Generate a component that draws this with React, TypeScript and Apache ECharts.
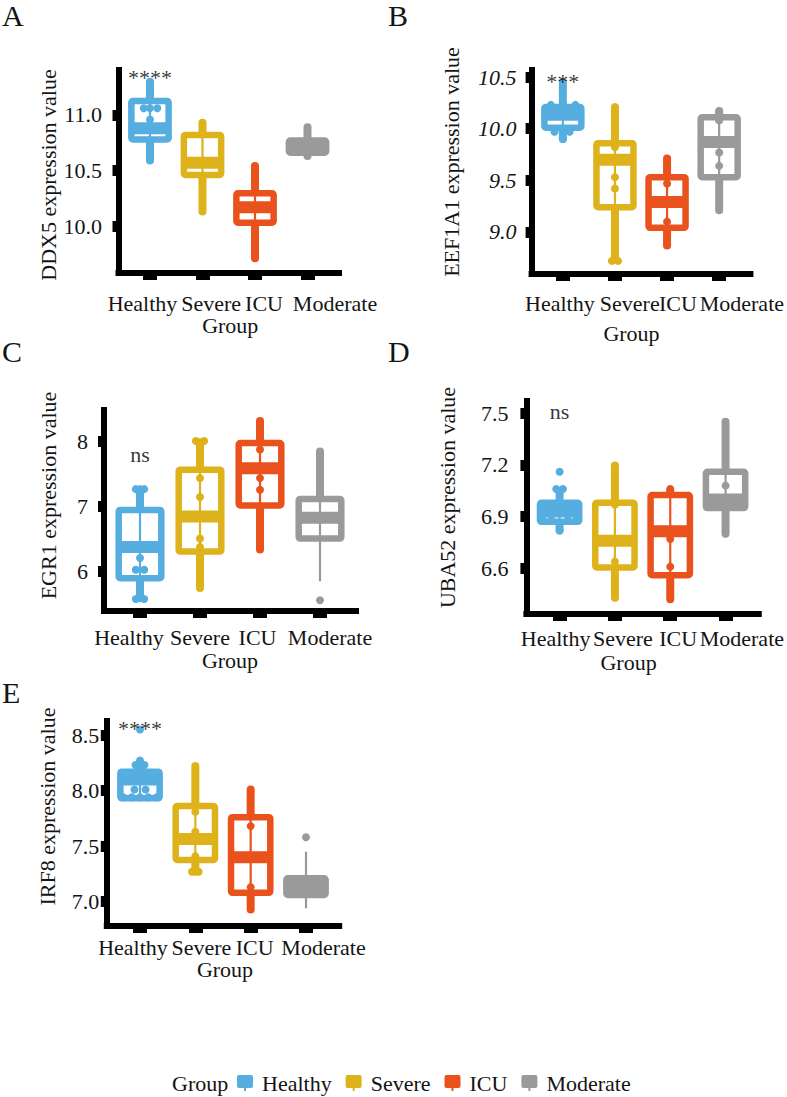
import React, { useEffect, useRef } from 'react';
import * as echarts from 'echarts';

// ---------- data ----------
const categories = ['Healthy', 'Severe', 'ICU', 'Moderate'];
const panelLetters = ['A', 'B', 'C', 'D', 'E'];
const yAxisNames = [
  'DDX5 expression value',
  'EEF1A1 expression value',
  'EGR1 expression value',
  'UBA52 expression value',
  'IRF8 expression value',
];
const sigLabels = ['****', '***', 'ns', 'ns', '****'];
const sigValues = [11.34, 10.46, 7.8, 7.51, 8.56];

// y tick labels per panel
const ddx5Ticks = [10.0, 10.5, 11.0];
const eef1a1Ticks = [9.0, 9.5, 10.0, 10.5];
const egr1Ticks = [6, 7, 8];
const uba52Ticks = [6.6, 6.9, 7.2, 7.5];
const irf8Ticks = [7.0, 7.5, 8.0, 8.5];

// box stats per group: [min, q1, median, q3, max]
const ddx5Box = [
  [10.59, 10.78, 10.88, 11.125, 11.3],
  [10.13, 10.46, 10.57, 10.82, 10.93],
  [9.71, 10.03, 10.17, 10.295, 10.54],
  [10.63, 10.66, 10.71, 10.77, 10.89],
];
const eef1a1Box = [
  [9.9, 10.01, 10.135, 10.21, 10.43],
  [8.73, 9.24, 9.7, 9.86, 10.2],
  [8.87, 9.04, 9.29, 9.53, 9.71],
  [9.21, 9.53, 9.87, 10.11, 10.17],
];
const egr1Box = [
  [5.59, 5.9, 6.38, 6.95, 7.27],
  [5.75, 6.31, 6.85, 7.57, 7.99],
  [6.34, 7.02, 7.59, 7.98, 8.32],
  [5.85, 6.51, 6.83, 7.12, 7.85],
];
const uba52Box = [
  [6.82, 6.87, 6.93, 6.98, 7.04],
  [6.43, 6.605, 6.76, 6.98, 7.196],
  [6.42, 6.56, 6.815, 7.025, 7.05],
  [6.8, 6.95, 7.0, 7.16, 7.45],
];
const irf8Box = [
  [7.93, 7.93, 8.1, 8.17, 8.25],
  [7.27, 7.375, 7.565, 7.86, 8.22],
  [6.93, 7.08, 7.4, 7.76, 8.01],
  [6.94, 7.06, 7.14, 7.21, 7.45],
];

// sample points per group: [jitter, value]
const ddx5Points = [
  [[-0.12, 11.06], [0, 11.06], [0.14, 11.06], [0, 10.96], [0, 10.64], [0, 10.6]],
  [],
  [],
  [],
];
const eef1a1Points = [
  [[0, 10.45], [-0.23, 10.23], [0.24, 10.23], [0, 10.23], [-0.16, 9.97], [0.13, 9.97], [0, 9.9]],
  [[0, 10.21], [0, 9.82], [0, 9.53], [0, 9.42], [-0.06, 8.72], [0.06, 8.72]],
  [[0, 9.47], [0, 9.1]],
  [[0, 10.16], [0, 10.08], [0, 9.77], [0, 9.64]],
];
const egr1Points = [
  [[-0.07, 7.27], [0.07, 7.27], [0, 6.21], [-0.07, 6.03], [0.07, 6.03], [0, 5.75], [-0.07, 5.58], [0.07, 5.58]],
  [[-0.07, 8.01], [0.07, 8.01], [0, 7.44], [0, 7.15], [0, 6.51], [0, 6.38], [0, 6.31]],
  [[0, 7.88], [0, 7.44], [0, 7.26]],
  [[0, 5.56]],
];
const uba52Points = [
  [[0, 7.16], [-0.06, 7.06], [0.06, 7.06], [-0.3, 6.88], [-0.15, 6.88], [0.15, 6.88], [0.3, 6.88], [0, 6.82]],
  [[0, 6.97], [0, 6.64]],
  [[0, 7.06], [0, 7.04], [0, 6.77], [0, 6.61]],
  [[0, 7.08], [0, 7.0]],
];
const irf8Points = [
  [[0, 8.55], [0, 8.27], [-0.08, 8.23], [0.08, 8.23], [-0.1, 8.01], [0.1, 8.01], [-0.3, 7.94], [-0.15, 7.94], [0, 7.94], [0.15, 7.94], [0.3, 7.94]],
  [[0, 7.81], [0, 7.63], [0, 7.41], [-0.06, 7.27], [0.06, 7.27]],
  [[0, 7.68], [0, 7.13]],
  [[0, 7.58]],
];

const panelBoxes = [ddx5Box, eef1a1Box, egr1Box, uba52Box, irf8Box];
const panelPoints = [ddx5Points, eef1a1Points, egr1Points, uba52Points, irf8Points];
const panelTicks = [ddx5Ticks, eef1a1Ticks, egr1Ticks, uba52Ticks, irf8Ticks];
const panelRanges = [
  [9.577, 11.405],
  [8.593, 10.568],
  [5.395, 8.488],
  [6.335, 7.571],
  [6.781, 8.626],
];

// ---------- style / layout ----------
const FONT = "'Liberation Serif', 'DejaVu Serif', serif";
const TEXT = '#141414';
const colors = ['#56ADE0', '#DEB21B', '#E9521C', '#9A9A9A'];
const grids = [
  { left: 118.5, top: 70, width: 220.5, height: 203 },
  { left: 531.6, top: 70, width: 221.8, height: 204 },
  { left: 104, top: 410, width: 252, height: 201 },
  { left: 526.4, top: 401, width: 235.2, height: 213 },
  { left: 106.8, top: 721, width: 232.4, height: 205 },
];
const X_MIN = -0.6;
const X_MAX = 3.6;
const yLabelMargin = [16.5, 15, 16, 18, 7.5];
const yLabelDecimals = [1, 1, 0, 1, 1];
const yLabelItalic = [false, true, false, false, false];
const yNameGap = [54, 69, 45, 68, 48];
const yNameShift = [-3.5, 10, 15, 10, 17];
const xLabelMargin = [19, 18, 15, 13, 10];
const xNameGap = [41, 48, 38, 37, 30];
const xNameShift = [1.5, -9.5, 0, -14, 2];
// horizontal shift (px) of each category label from its tick
const xLabelShift = [
  [-7.5, 8.7, 9, 27.5],
  [-3, 15, 11, 23],
  [-11, 0, -2.5, 10],
  [-4, 8, 8, 16.5],
  [-7, 6, 4, 17.5],
];
// whiskers drawn thin: 'none' | 'lower' | 'both'
const thinWhiskers = [
  ['none', 'none', 'none', 'none'],
  ['none', 'none', 'none', 'none'],
  ['none', 'none', 'none', 'lower'],
  ['none', 'none', 'none', 'none'],
  ['none', 'none', 'none', 'both'],
];
const letterPos = [
  [2, 0],
  [388, 0],
  [2, 336],
  [388, 336],
  [2, 677],
];
const BOX_W = 0.71;

function shiftPad(d: number) {
  return d >= 0 ? [0, 0, 0, 2 * d] : [0, -2 * d, 0, 0];
}

function makeRenderItem(color: string, thin: string) {
  return (params: any, api: any) => {
    const x = api.value(0);
    const pMin = api.coord([x, api.value(1)]);
    const pQ1 = api.coord([x, api.value(2)]);
    const pMed = api.coord([x, api.value(3)]);
    const pQ3 = api.coord([x, api.value(4)]);
    const pMax = api.coord([x, api.value(5)]);
    const w = api.size([BOX_W, 0])[0];
    const cx = pQ1[0];
    const thickW = 8;
    const thinW = 2.2;
    const upperW = thin === 'both' ? thinW : thickW;
    const lowerW = thin === 'both' || thin === 'lower' ? thinW : thickW;
    return {
      type: 'group',
      children: [
        {
          type: 'line',
          shape: { x1: cx, y1: pQ3[1], x2: cx, y2: pMax[1] },
          style: { stroke: color, lineWidth: upperW, lineCap: upperW > 3 ? 'round' : 'butt' },
        },
        {
          type: 'line',
          shape: { x1: cx, y1: pQ1[1], x2: cx, y2: pMin[1] },
          style: { stroke: color, lineWidth: lowerW, lineCap: lowerW > 3 ? 'round' : 'butt' },
        },
        {
          type: 'rect',
          shape: { x: cx - w / 2, y: pQ3[1], width: w, height: pQ1[1] - pQ3[1], r: 1.5 },
          style: { fill: '#ffffff', stroke: color, lineWidth: 6.5, lineJoin: 'round' },
        },
        {
          type: 'line',
          shape: { x1: cx, y1: pQ3[1], x2: cx, y2: pQ1[1] },
          style: { stroke: color, lineWidth: 2.2 },
        },
        {
          type: 'line',
          shape: { x1: cx - w / 2, y1: pMed[1], x2: cx + w / 2, y2: pMed[1] },
          style: { stroke: color, lineWidth: 12 },
        },
      ],
    };
  };
}

function buildOption() {
  const xAxis: any[] = [];
  const yAxis: any[] = [];
  const series: any[] = [];
  const graphic: any[] = [];

  for (let p = 0; p < 5; p++) {
    const unitPx = grids[p].width / (X_MAX - X_MIN);
    const labelPos = categories.map((c, i) => i + xLabelShift[p][i] / unitPx);
    const nearestIdx = (v: number) => {
      let best = 0;
      for (let j = 1; j < labelPos.length; j++) {
        if (Math.abs(labelPos[j] - v) < Math.abs(labelPos[best] - v)) best = j;
      }
      return best;
    };
    xAxis.push({
      type: 'value',
      gridIndex: p,
      min: X_MIN,
      max: X_MAX,
      axisLine: { show: true, onZero: false, lineStyle: { color: '#000', width: 6, cap: 'square' } },
      axisTick: { show: true, length: 7, customValues: [0, 1, 2, 3], lineStyle: { color: '#000', width: 14 } },
      axisLabel: {
        customValues: labelPos,
        margin: xLabelMargin[p],
        showMinLabel: true,
        showMaxLabel: true,
        hideOverlap: false,
        formatter: (v: number) => categories[nearestIdx(v)],
        fontFamily: FONT,
        fontSize: 22,
        color: TEXT,
      },
      splitLine: { show: false },
      name: 'Group',
      nameLocation: 'middle',
      nameGap: xNameGap[p],
      nameTextStyle: {
        fontFamily: FONT,
        fontSize: 22,
        color: TEXT,
        padding: shiftPad(xNameShift[p]),
      },
    });
    yAxis.push({
      type: 'value',
      gridIndex: p,
      min: panelRanges[p][0],
      max: panelRanges[p][1],
      axisLine: { show: true, onZero: false, lineStyle: { color: '#000', width: 6, cap: 'square' } },
      axisTick: { show: true, length: 6, customValues: panelTicks[p], lineStyle: { color: '#000', width: 11 } },
      axisLabel: {
        customValues: panelTicks[p],
        margin: yLabelMargin[p],
        showMinLabel: true,
        showMaxLabel: true,
        hideOverlap: false,
        formatter: (v: number) => v.toFixed(yLabelDecimals[p]),
        fontFamily: FONT,
        fontSize: 22,
        color: TEXT,
        fontStyle: yLabelItalic[p] ? 'italic' : 'normal',
      },
      splitLine: { show: false },
      name: yAxisNames[p],
      nameLocation: 'middle',
      nameGap: yNameGap[p],
      nameTextStyle: {
        fontFamily: FONT,
        fontSize: 22,
        color: TEXT,
        padding: shiftPad(yNameShift[p]),
      },
    });

    categories.forEach((c, g) => {
      const st = panelBoxes[p][g];
      series.push({
        type: 'custom',
        name: c,
        xAxisIndex: p,
        yAxisIndex: p,
        itemStyle: { color: colors[g] },
        renderItem: makeRenderItem(colors[g], thinWhiskers[p][g]),
        encode: { x: 0, y: [1, 2, 3, 4, 5] },
        data: [[g, st[0], st[1], st[2], st[3], st[4]]],
        z: 2,
        silent: true,
      });
      series.push({
        type: 'scatter',
        name: c,
        xAxisIndex: p,
        yAxisIndex: p,
        symbol: 'circle',
        symbolSize: 8,
        itemStyle: { color: colors[g], opacity: 1 },
        data: panelPoints[p][g].map((pt: number[]) => [g + pt[0], pt[1]]),
        z: 3,
        silent: true,
      });
    });

    series.push({
      type: 'scatter',
      name: 'sig' + p,
      xAxisIndex: p,
      yAxisIndex: p,
      symbol: 'circle',
      symbolSize: 1,
      itemStyle: { color: 'rgba(0,0,0,0)' },
      data: [[0, sigValues[p]]],
      label: {
        show: true,
        position: 'inside',
        formatter: sigLabels[p],
        fontFamily: FONT,
        fontSize: 22,
        color: '#000',
      },
      z: 4,
      silent: true,
    });

    graphic.push({
      type: 'text',
      x: letterPos[p][0],
      y: letterPos[p][1],
      style: {
        text: panelLetters[p],
        fontFamily: FONT,
        fontSize: 30,
        fill: TEXT,
        verticalAlign: 'top',
      },
    });
  }

  graphic.push({
    type: 'text',
    x: 172,
    y: 1083,
    style: {
      text: 'Group',
      fontFamily: FONT,
      fontSize: 22,
      fill: TEXT,
      verticalAlign: 'middle',
    },
  });

  const legendIcon =
    'path://M2,0 H14 Q16,0 16,2 V11 Q16,13 14,13 H9 V16 H7 V13 H2 Q0,13 0,11 V2 Q0,0 2,0 Z';

  return {
    animation: false,
    backgroundColor: '#ffffff',
    textStyle: { fontFamily: FONT },
    grid: grids,
    xAxis,
    yAxis,
    series,
    graphic,
    legend: {
      left: 232,
      top: 1067,
      itemWidth: 16,
      itemHeight: 16,
      itemGap: 14,
      selectedMode: false,
      data: categories.map((c) => ({ name: c, icon: legendIcon })),
      textStyle: { fontFamily: FONT, fontSize: 22, color: TEXT, padding: [0, 0, 0, 4] },
    },
  };
}

export default function App() {
  const ref = useRef<HTMLDivElement>(null);
  useEffect(() => {
    document.body.style.margin = '0';
    const chart = echarts.init(ref.current as HTMLDivElement, null, { renderer: 'svg' });
    chart.setOption(buildOption() as any);
    return () => {
      chart.dispose();
    };
  }, []);
  return <div ref={ref} style={{ width: 787, height: 1097 }} />;
}
